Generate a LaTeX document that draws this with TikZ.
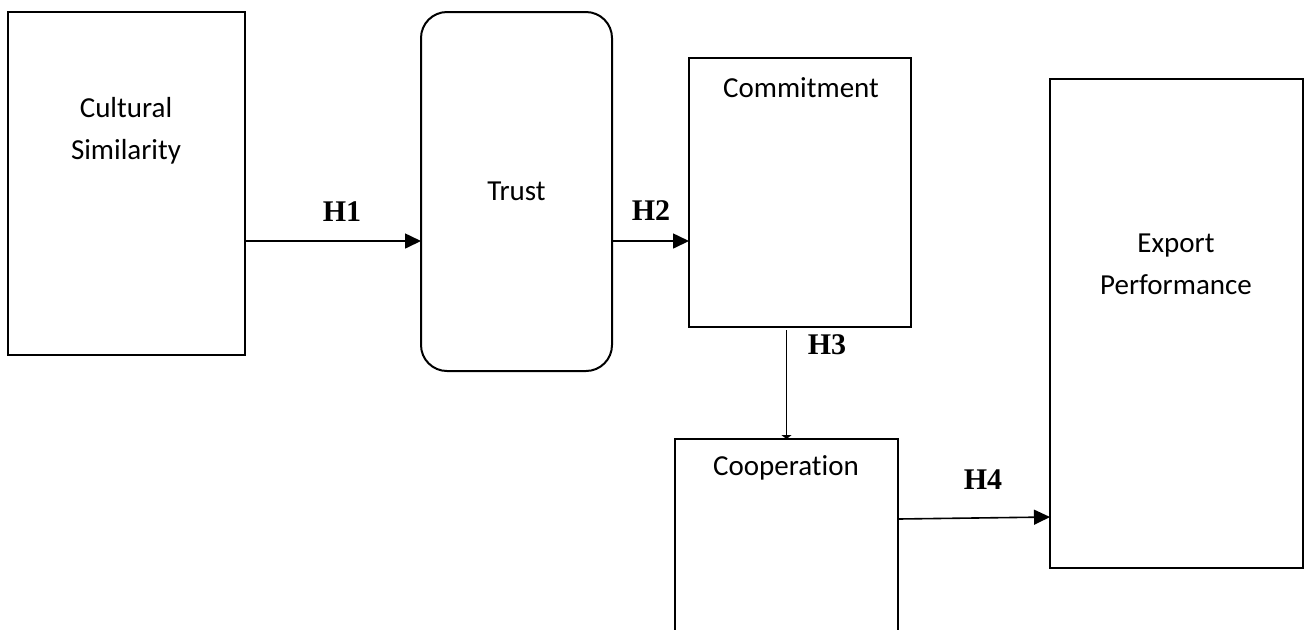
\documentclass[tikz,border=0pt]{standalone}
\usepackage{fontspec}
\setmainfont{Carlito}[Ligatures={NoCommon}]
\newfontfamily\hfont{Liberation Serif}
\usetikzlibrary{arrows.meta, positioning}
\tikzset{
  box/.style = {rectangle, draw, line width=1pt, outer sep=0pt, inner sep=0pt},
  arrow/.style = {-{Triangle[length=8pt, width=7.5pt]}, line width=0.8pt},
}

\begin{document}
\begin{tikzpicture}[x=0.5pt, y=-0.5pt, every node/.style={font=\fontsize{14.5}{21}\selectfont}]

    % Frame
    \useasboundingbox (0,0) rectangle (1306,629);
    \clip (0,0) rectangle (1306,629);

    % Node style
    \tikzstyle{hyp} = [font=\hfont\bfseries\fontsize{15}{17}\selectfont]
    \tikzstyle{txt} = [align=center, inner sep=0pt]

    % Nodes
    \node (cult) [box, minimum width=118.5pt, minimum height=171.5pt] at (126.5,183.5) {};
    \node (trust) [box, rounded corners=13pt, right=88pt of cult, yshift=-4pt, minimum width=95.5pt, minimum height=179.5pt] {Trust};
    \node (commit) [box, right=38.5pt of trust, yshift=-0.5pt, minimum width=111pt, minimum height=134.5pt] {};
    \node (coop) [box, below=56pt of commit, xshift=-6.75pt, minimum width=111.5pt, minimum height=130.5pt] {};
    \node (export) [box, right=69.5pt of commit, yshift=-65.5pt, minimum width=126.5pt, minimum height=244.5pt] {};

    \node (cultTxt) [txt] at (126,131) {Cultural\\Similarity};
    \node (commitTxt) [txt] at (801,88) {Commitment};
    \node (coopTxt) [txt] at (786,468) {Cooperation};
    \node (exportTxt) [txt] at (1176,264.5) {Export\\Performance};

    % Arrows
    \coordinate (h1) at ([yshift=-28.75pt]cult.east);
    \coordinate (h2) at ([yshift=-24.75pt]trust.east);
    \coordinate (h4) at ([yshift=25.25pt]coop.east);

    \draw [arrow] (h1) -- (h1 -| trust.west);
    \draw [arrow] (h2) -- (h2 -| commit.west);
    \draw [arrow, -{Triangle[length=2pt, width=5pt]}, shorten <=1.5pt] (coop.north |- commit.south) -- (coop.north);
    \draw [arrow] (h4) -- ([yshift=1pt]h4 -| export.west);

    \node (h1Lab) [hyp] at (342,212) {H1};
    \node (h2Lab) [hyp] at (651,211) {H2};
    \node (h3Lab) [hyp] at (827,345) {H3};
    \node (h4Lab) [hyp] at (983,480) {H4};

\end{tikzpicture}
\end{document}
